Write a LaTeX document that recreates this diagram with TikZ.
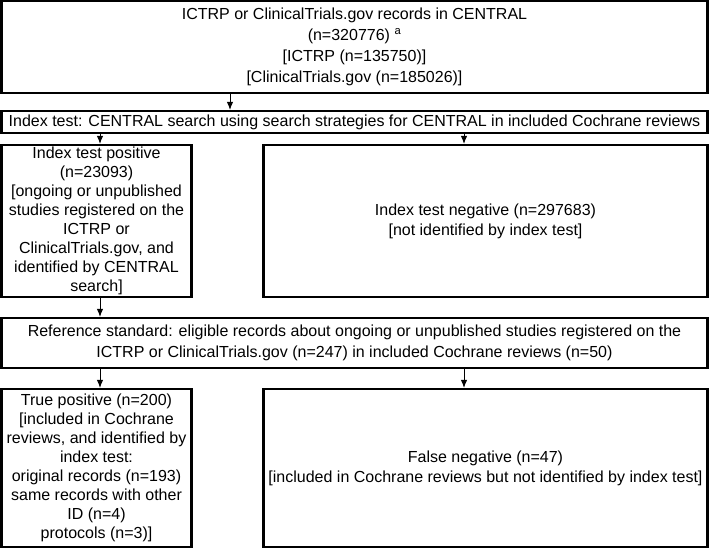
\documentclass[tikz,border=0pt]{standalone}
\usepackage{fontspec}
\setmainfont{Liberation Sans}
\usetikzlibrary{arrows.meta}
\tikzset{
  box/.style={draw, line width=2.2pt, rectangle, inner sep=0pt, align=center,
    font=\fontsize{16}{19}\selectfont},
  arr/.style={line width=1pt, -{Latex[length=8pt,width=6.5pt]}}
}
\begin{document}
\begin{tikzpicture}[x=1pt,y=-1pt]
\useasboundingbox (0,0) rectangle (709,549);
% top
\node[box, minimum width=706pt, minimum height=92pt, font=\fontsize{16}{21}\selectfont] (top) at (354.5,47)
  {ICTRP or ClinicalTrials.gov records in CENTRAL\\(n=320776) \textsuperscript{a}\\{}[ICTRP (n=135750)]\\{}[ClinicalTrials.gov (n=185026)]};
\node[box, minimum width=706pt, minimum height=22pt] (idx) at (354.5,122)
  {Index test: CENTRAL search using search strategies for CENTRAL in included Cochrane reviews};
\node[box, minimum width=190pt, minimum height=152pt, font=\fontsize{16}{19}\selectfont] (pos) at (96.5,221)
  {Index test positive\\(n=23093)\\{}[ongoing or unpublished\\studies registered on the\\ICTRP or\\ClinicalTrials.gov, and\\identified by CENTRAL\\search]};
\node[box, minimum width=444pt, minimum height=152pt, font=\fontsize{16}{20}\selectfont] (neg) at (485.5,221)
  {Index test negative (n=297683)\\{}[not identified by index test]};
\node[box, minimum width=706pt, minimum height=50pt, font=\fontsize{16}{21}\selectfont] (ref) at (354.5,343)
  {Reference standard: eligible records about ongoing or unpublished studies registered on the\\ICTRP or ClinicalTrials.gov (n=247) in included Cochrane reviews (n=50)};
\node[box, minimum width=190pt, minimum height=158pt, font=\fontsize{16}{19}\selectfont] (tp) at (96.5,468)
  {True positive (n=200)\\{}[included in Cochrane\\reviews, and identified by\\index test:\\original records (n=193)\\same records with other\\ID (n=4)\\protocols (n=3)]};
\node[box, minimum width=444pt, minimum height=158pt, font=\fontsize{16}{20}\selectfont] (fn) at (485.5,468)
  {False negative (n=47)\\{}[included in Cochrane reviews but not identified by index test]};
% arrow columns
\coordinate (ca) at (230,0);
\coordinate (cl) at (100,0);
\coordinate (cr) at (464,0);
\draw[arr] (ca |- top.south) -- (ca |- idx.north);
\draw[arr] (cl |- idx.south) -- (cl |- pos.north);
\draw[arr] (cr |- idx.south) -- (cr |- neg.north);
\draw[arr] (cl |- pos.south) -- (cl |- ref.north);
\draw[arr] (cl |- ref.south) -- (cl |- tp.north);
\draw[arr] (cr |- ref.south) -- (cr |- fn.north);
\end{tikzpicture}
\end{document}
